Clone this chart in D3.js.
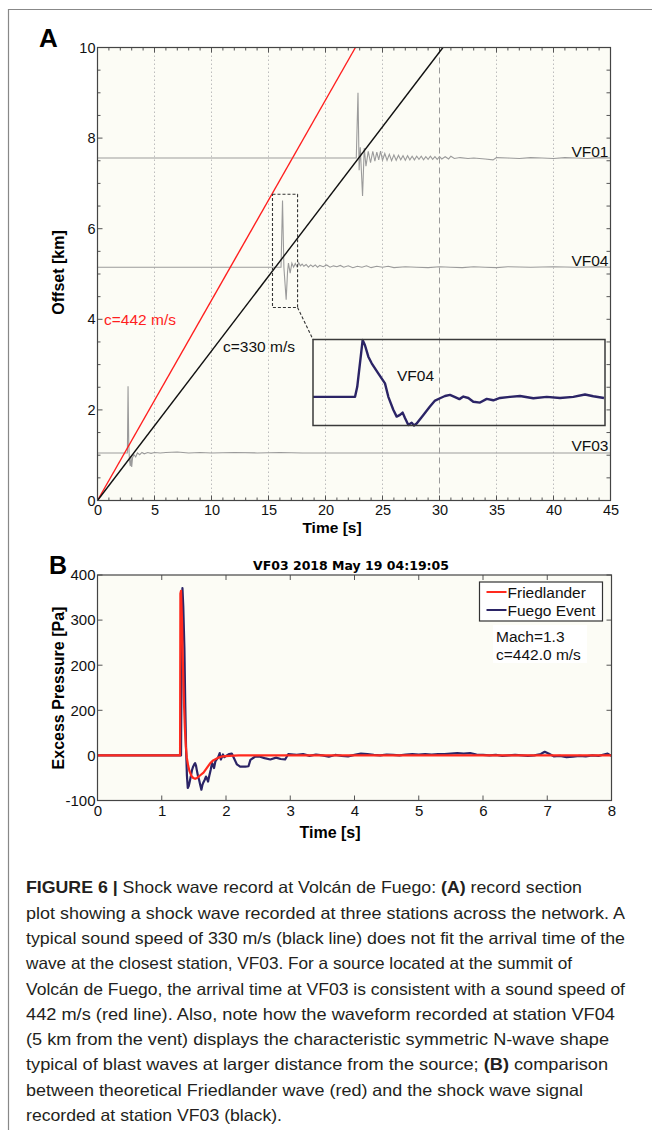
<!DOCTYPE html>
<html>
<head>
<meta charset="utf-8">
<script src="https://cdn.jsdelivr.net/npm/d3@7"></script>
<style>
  body { margin: 0; background: #fff; }
  svg { display: block; font-family: "Liberation Sans", Arial, sans-serif; }
</style>
</head>
<body>
<div id="fig"></div>
<script>
// ---- Panel A data: record section ----
const stations = ["VF01", "VF04", "VF03"];
const stationOffset = [7.56, 5.15, 1.05]; // km
// [time s, deviation from baseline in km]
const vf01Trace = [[0,0],[22.7,0],[22.85,1.44],[22.95,-0.27],[23.05,0.24],[23.25,-0.84],[23.4,0.22],[23.55,-0.18],
  [23.75,0.15],[23.95,-0.1],[24.15,0.15],[24.33,-0.07],[24.5,0.13],[24.67,-0.04],[24.83,0.15],[25.0,-0.05],
  [25.2,0.1],[25.4,-0.05],[25.6,0.08],[25.8,-0.06],[26.0,0.07],[26.2,-0.05],[26.4,0.06],[26.6,-0.04],[26.8,0.05],
  [27.0,-0.05],[27.2,0.05],[27.4,-0.04],[27.6,0.04],[27.8,-0.04],[28.0,0.04],[28.2,-0.03],[28.4,0.04],[28.6,-0.04],
  [28.8,0.03],[29.0,-0.03],[29.2,0.04],[29.4,-0.03],[29.6,0.03],[29.8,-0.03],[30.0,0.03],[30.2,-0.02],[30.5,0.03],
  [30.8,-0.02],[31.0,0.04],[31.3,-0.01],[31.8,0.01],[32.5,-0.01],[33.0,0.0],[34.0,-0.02],[34.7,-0.04],[35.0,0.01],
  [36.0,0.0],[37.0,-0.01],[38.0,0.01],[39.0,0.0],[40.0,-0.01],[41.0,0.01],[42,0],[43,-0.01],[44,0.01],[45,0]];
const vf04Trace = [[0,0],[16.1,0],[16.23,1.47],[16.35,0],[16.46,-0.4],[16.55,-0.72],[16.67,-0.1],[16.75,0.09],
  [16.9,-0.13],[17.05,0.09],[17.2,0.0],[17.35,0.08],[17.5,0.01],[17.65,0.1],[17.8,0.03],[17.95,0.07],[18.1,0.02],
  [18.3,0.06],[18.5,0.0],[18.7,0.05],[18.9,0.01],[19.1,0.05],[19.3,0.0],[19.5,0.04],[19.8,0.01],[20.1,0.05],
  [20.4,0.0],[20.7,0.03],[21.0,0.01],[21.3,0.04],[21.6,0.0],[22.0,0.03],[22.4,-0.01],[22.8,0.02],[23.2,0.0],
  [23.6,0.03],[24.0,-0.01],[24.5,0.02],[25.0,0.0],[25.5,0.02],[26,-0.01],[27,0.01],[28,0],[29,-0.01],[30,0.01],
  [31,0],[32,-0.01],[33,0.01],[34,0],[35,-0.01],[36,0.01],[38,0],[40,0.01],[42,0],[44,0.01],[45,0]];
const vf03Trace = [[0,0],[2.62,0],[2.68,1.47],[2.74,0.2],[2.8,-0.15],[2.88,-0.29],[2.94,-0.07],[3.0,-0.31],
  [3.08,-0.1],[3.2,-0.04],[3.35,-0.09],[3.5,0.0],[3.7,-0.04],[3.9,0.01],[4.1,-0.02],[4.4,0.01],[4.7,-0.01],
  [5.0,0.01],[5.5,0],[6,0.01],[7,0.02],[8,0.0],[9,0.01],[10,0],[12,0.01],[14,0],[16,0.01],[18,0],[20,0],
  [25,0],[30,0],[35,0],[40,0],[45,0]];
const traces = [vf01Trace, vf04Trace, vf03Trace];
const soundSpeeds = [442, 330]; // m/s
const speedColors = ["#ff1e1e", "#111111"];
// zoomed VF04 window (s, km) and inset waveform [relative time s, normalised amplitude]
const zoomWindow = { t0: 15.35, t1: 17.55, y0: 4.26, y1: 6.76 };
const insetTrace = [[0,0],[0.288,0],[0.303,0.35],[0.34,1.98],[0.356,1.8],[0.379,1.4],[0.402,1.17],[0.447,0.82],
  [0.493,0.47],[0.516,0],[0.55,-0.45],[0.573,-0.69],[0.596,-0.63],[0.614,-0.55],[0.63,-0.74],[0.653,-0.98],
  [0.676,-0.9],[0.692,-1.0],[0.71,-0.93],[0.756,-0.63],[0.801,-0.34],[0.836,-0.13],[0.87,-0.05],[0.904,0.03],
  [0.938,0.07],[0.973,-0.01],[1.003,-0.08],[1.03,0.01],[1.064,-0.04],[1.098,-0.17],[1.144,-0.2],[1.19,-0.07],
  [1.235,-0.12],[1.281,-0.04],[1.349,0],[1.418,0.03],[1.509,-0.05],[1.601,0],[1.692,-0.04],[1.783,0],
  [1.863,0.08],[1.92,0.02],[1.993,-0.04]];

// ---- Panel B data: excess pressure ----
const friedlander = [[0,0],[1.285,0],[1.29,359],[1.3,365],[1.315,300],[1.33,200],[1.345,120],[1.36,60],
  [1.375,20],[1.39,-5],[1.41,-22],[1.43,-34],[1.46,-45],[1.49,-50],[1.52,-52],[1.55,-50],[1.6,-44],[1.65,-38],
  [1.7,-28],[1.75,-18],[1.8,-11],[1.88,-5],[1.95,-2],[2.05,-1],[2.2,0],[8,0]];
const fuegoEvent = [[0,0],[1.3,0],[1.305,120],[1.322,371],[1.335,330],[1.353,234],[1.366,110],[1.379,12],
  [1.392,-45],[1.405,-72],[1.42,-68],[1.436,-58],[1.452,-47],[1.47,-33],[1.488,-25],[1.505,-20],[1.519,-17],
  [1.532,-22],[1.545,-32],[1.563,-45],[1.581,-54],[1.6,-66],[1.617,-76],[1.632,-66],[1.648,-60],[1.669,-54],
  [1.688,-47],[1.705,-52],[1.721,-58],[1.74,-45],[1.762,-32],[1.783,-17],[1.8,-22],[1.814,-28],[1.835,-13],
  [1.856,-9],[1.876,-5],[1.902,5],[1.92,-9],[1.953,2],[1.975,-4],[2.0,-1],[2.05,3],[2.09,4],[2.13,-8],[2.17,-20],
  [2.22,-25],[2.3,-25],[2.35,-24],[2.38,-10],[2.45,-3],[2.53,-3],[2.6,-6],[2.69,-9],[2.78,-5],[2.85,-8],[2.92,-9],
  [2.97,3],[3.1,1],[3.2,3],[3.3,-1],[3.4,2],[3.5,0],[3.6,-3],[3.7,1],[3.8,-1],[3.9,-2],[4.0,1],[4.1,4],[4.2,3],
  [4.3,1],[4.4,0],[4.5,2],[4.6,1],[4.7,0],[4.8,2],[4.9,3],[5.0,2],[5.1,3],[5.2,2],[5.3,3],[5.4,3],[5.5,4],
  [5.6,5],[5.7,4],[5.8,5],[5.9,2],[6.0,1],[6.1,0],[6.2,1],[6.3,-1],[6.4,0],[6.5,1],[6.6,0],[6.7,-1],[6.8,0],
  [6.9,3],[6.96,8],[7.02,4],[7.1,-2],[7.2,-1],[7.3,-4],[7.4,-3],[7.5,-1],[7.6,-2],[7.7,0],[7.8,-1],[7.88,2],
  [7.94,4],[8.0,-1]];
const bYTicks = [400, 300, 200, 100, 0, -100];
const bYTickLabels = ["400", "300", "200", "200", "0", "-100"]; // as printed
const legendNames = ["Friedlander", "Fuego Event"];

// ---- Caption ----
const captionLines = [
  [["FIGURE 6 | ", 1], ["Shock wave record at Volcán de Fuego: ", 0], ["(A)", 1], [" record section", 0]],
  [["plot showing a shock wave recorded at three stations across the network. A", 0]],
  [["typical sound speed of 330 m/s (black line) does not fit the arrival time of the", 0]],
  [["wave at the closest station, VF03. For a source located at the summit of", 0]],
  [["Volcán de Fuego, the arrival time at VF03 is consistent with a sound speed of", 0]],
  [["442 m/s (red line). Also, note how the waveform recorded at station VF04", 0]],
  [["(5 km from the vent) displays the characteristic symmetric N-wave shape", 0]],
  [["typical of blast waves at larger distance from the source; ", 0], ["(B)", 1], [" comparison", 0]],
  [["between theoretical Friedlander wave (red) and the shock wave signal", 0]],
  [["recorded at station VF03 (black).", 0]]
];
const captionEnds = [582, 625, 625, 572, 625, 615, 609, 608, 583, 282];

const W = 652, H = 1130;
const bg = "#fcfcf5";
const svg = d3.select("#fig").append("svg").attr("width", W).attr("height", H);

// figure frame rules
svg.append("path").attr("d", `M8.5,${H} V9.5 H${W}`).attr("fill", "none").attr("stroke", "#888").attr("stroke-width", 1.2);

// ================= Panel A =================
const a = { left: 97.5, right: 610.5, top: 47.5, bottom: 500.5 };
const xA = d3.scaleLinear().domain([0, 45]).range([a.left, a.right]);
const yA = d3.scaleLinear().domain([0, 10]).range([a.bottom, a.top]);

svg.append("rect").attr("x", a.left).attr("y", a.top).attr("width", a.right - a.left)
  .attr("height", a.bottom - a.top).attr("fill", bg);

const gA = svg.append("g");
// vertical grid
gA.selectAll(".gridA").data(d3.range(5, 45, 5)).join("line")
  .attr("x1", d => xA(d)).attr("x2", d => xA(d)).attr("y1", a.top).attr("y2", a.bottom)
  .attr("stroke", d => d === 30 ? "#9a9a9a" : "#bdbdbd")
  .attr("stroke-width", 1)
  .attr("stroke-dasharray", d => d === 30 ? "6,4" : "1.5,2.5");

// minor ticks
const minorT = d3.range(0, 46, 1);
gA.selectAll(".mtb").data(minorT).join("line")
  .attr("x1", d => xA(d)).attr("x2", d => xA(d))
  .attr("y1", a.bottom).attr("y2", d => a.bottom - (d % 5 === 0 ? 5 : 3)).attr("stroke", "#555");
gA.selectAll(".mtt").data(minorT).join("line")
  .attr("x1", d => xA(d)).attr("x2", d => xA(d))
  .attr("y1", a.top).attr("y2", d => a.top + (d % 5 === 0 ? 5 : 3)).attr("stroke", "#555");
const minorY = d3.range(0, 10.01, 0.5);
gA.selectAll(".mtl").data(minorY).join("line")
  .attr("x1", a.left).attr("x2", d => a.left + (d % 2 === 0 ? 5 : 3))
  .attr("y1", d => yA(d)).attr("y2", d => yA(d)).attr("stroke", "#555");
gA.selectAll(".mtr").data(minorY).join("line")
  .attr("x1", a.right).attr("x2", a.right - 4)
  .attr("y1", d => yA(d)).attr("y2", d => yA(d)).attr("stroke", "#555");

// station traces
const traceLine = off => d3.line().x(d => xA(d[0])).y(d => yA(off + d[1]));
traces.forEach((tr, i) => {
  gA.append("path").datum(tr).attr("d", traceLine(stationOffset[i]))
    .attr("fill", "none").attr("stroke", "#9b9b9b").attr("stroke-width", 1.1);
});
gA.selectAll(".stLab").data(stations).join("text")
  .attr("x", 608.5).attr("y", (d, i) => yA(stationOffset[i]) - 1.5)
  .attr("text-anchor", "end").attr("font-size", 15.5).attr("fill", "#111").text(d => d);

// sound speed lines (offset km = c * t / 1000), clipped at 10 km
soundSpeeds.forEach((c, i) => {
  const tEnd = 10 / (c / 1000);
  gA.append("path").datum([[0, 0], [tEnd, 10]])
    .attr("d", d3.line().x(d => xA(d[0])).y(d => yA(d[1])))
    .attr("stroke", speedColors[i]).attr("stroke-width", 1.4).attr("fill", "none");
});
gA.append("text").attr("x", 104).attr("y", 325).attr("font-size", 15.5).attr("fill", speedColors[0])
  .text(`c=${soundSpeeds[0]} m/s`);
gA.append("text").attr("x", 223).attr("y", 352).attr("font-size", 15.5).attr("fill", speedColors[1])
  .text(`c=${soundSpeeds[1]} m/s`);

// zoom window + connector
gA.append("rect")
  .attr("x", xA(zoomWindow.t0)).attr("y", yA(zoomWindow.y1))
  .attr("width", xA(zoomWindow.t1) - xA(zoomWindow.t0)).attr("height", yA(zoomWindow.y0) - yA(zoomWindow.y1))
  .attr("fill", "none").attr("stroke", "#333").attr("stroke-width", 1.1).attr("stroke-dasharray", "3,2");

const inset = { x: 313, y: 339.5, w: 292, h: 86 };
gA.append("line")
  .attr("x1", xA(zoomWindow.t1)).attr("y1", yA(zoomWindow.y0)).attr("x2", inset.x).attr("y2", inset.y)
  .attr("stroke", "#333").attr("stroke-width", 1.1).attr("stroke-dasharray", "3,2");

// inset
const xI = d3.scaleLinear().domain([0, 2]).range([inset.x, inset.x + inset.w]);
const yI = d3.scaleLinear().domain([-1, 2]).range([inset.y + inset.h, inset.y]);
gA.append("path").datum(insetTrace)
  .attr("d", d3.line().x(d => xI(d[0])).y(d => yI(d[1])))
  .attr("fill", "none").attr("stroke", "#2b2466").attr("stroke-width", 2.4).attr("stroke-linejoin", "round");
gA.append("rect").attr("x", inset.x).attr("y", inset.y).attr("width", inset.w).attr("height", inset.h)
  .attr("fill", "none").attr("stroke", "#3a3a3a").attr("stroke-width", 1.5);
gA.append("text").attr("x", 397).attr("y", 381).attr("font-size", 15.5).attr("fill", "#111").text("VF04");

// frame + axes
gA.append("rect").attr("x", a.left).attr("y", a.top).attr("width", a.right - a.left)
  .attr("height", a.bottom - a.top).attr("fill", "none").attr("stroke", "#444").attr("stroke-width", 1.2);

const axA_x = svg.append("g").attr("transform", `translate(0,${a.bottom})`)
  .call(d3.axisBottom(xA).tickValues(d3.range(0, 46, 5)).tickSize(0).tickPadding(4));
const axA_y = svg.append("g").attr("transform", `translate(${a.left},0)`)
  .call(d3.axisLeft(yA).tickValues(d3.range(0, 11, 2)).tickSize(0).tickPadding(2));
[axA_x, axA_y].forEach(g => {
  g.select(".domain").remove();
  g.selectAll("text").attr("font-size", 14.5).attr("font-family", "Liberation Sans, Arial, sans-serif").attr("fill", "#111");
});

svg.append("text").attr("x", 332).attr("y", 533).attr("text-anchor", "middle")
  .attr("font-size", 15.5).attr("font-weight", "bold").text("Time [s]");
svg.append("text").attr("transform", "translate(63.5,272.5) rotate(-90)").attr("text-anchor", "middle")
  .attr("font-size", 16).attr("font-weight", "bold").text("Offset [km]");
svg.append("text").attr("x", 39).attr("y", 47).attr("font-size", 26).attr("font-weight", "bold").text("A");

// ================= Panel B =================
const b = { left: 97.5, right: 611.5, top: 575, bottom: 800.5 };
const xB = d3.scaleLinear().domain([0, 8]).range([b.left, b.right]);
const yB = d3.scaleLinear().domain([-100, 400]).range([b.bottom, b.top]);

svg.append("rect").attr("x", b.left).attr("y", b.top).attr("width", b.right - b.left)
  .attr("height", b.bottom - b.top).attr("fill", bg);
const gB = svg.append("g");

// inward ticks on four sides
const xtB = d3.range(0, 9, 1);
gB.selectAll(".tb").data(xtB).join("line").attr("x1", d => xB(d)).attr("x2", d => xB(d))
  .attr("y1", b.bottom).attr("y2", b.bottom - 5).attr("stroke", "#555");
gB.selectAll(".tt").data(xtB).join("line").attr("x1", d => xB(d)).attr("x2", d => xB(d))
  .attr("y1", b.top).attr("y2", b.top + 5).attr("stroke", "#555");
gB.selectAll(".tl").data(bYTicks).join("line").attr("x1", b.left).attr("x2", b.left + 5)
  .attr("y1", d => yB(d)).attr("y2", d => yB(d)).attr("stroke", "#555");
gB.selectAll(".tr").data(bYTicks).join("line").attr("x1", b.right).attr("x2", b.right - 5)
  .attr("y1", d => yB(d)).attr("y2", d => yB(d)).attr("stroke", "#555");

const lineB = d3.line().x(d => xB(d[0])).y(d => yB(d[1]));
gB.append("path").datum(fuegoEvent).attr("d", lineB).attr("fill", "none")
  .attr("stroke", "#2b2466").attr("stroke-width", 2.2).attr("stroke-linejoin", "round");
gB.append("path").datum(friedlander).attr("d", lineB).attr("fill", "none")
  .attr("stroke", "#ff2a1e").attr("stroke-width", 2.2).attr("stroke-linejoin", "round");

gB.append("rect").attr("x", b.left).attr("y", b.top).attr("width", b.right - b.left)
  .attr("height", b.bottom - b.top).attr("fill", "none").attr("stroke", "#444").attr("stroke-width", 1.2);

const axB_x = svg.append("g").attr("transform", `translate(0,${b.bottom})`)
  .call(d3.axisBottom(xB).tickValues(xtB).tickSize(0).tickPadding(5));
const axB_y = svg.append("g").attr("transform", `translate(${b.left},0)`)
  .call(d3.axisLeft(yB).tickValues(bYTicks).tickFormat((d, i) => bYTickLabels[i]).tickSize(0).tickPadding(2));
[axB_x, axB_y].forEach(g => {
  g.select(".domain").remove();
  g.selectAll("text").attr("font-size", 15).attr("font-family", "Liberation Sans, Arial, sans-serif").attr("fill", "#111");
});

// legend
const leg = { x: 479.5, y: 582, w: 123, h: 39 };
gB.append("rect").attr("x", leg.x).attr("y", leg.y).attr("width", leg.w).attr("height", leg.h)
  .attr("fill", "#fff").attr("stroke", "#333").attr("stroke-width", 1.2);
const legColors = ["#ff2a1e", "#2b2466"];
legendNames.forEach((name, i) => {
  const yy = leg.y + 10 + i * 18;
  gB.append("line").attr("x1", leg.x + 7).attr("x2", leg.x + 27).attr("y1", yy).attr("y2", yy)
    .attr("stroke", legColors[i]).attr("stroke-width", 2);
  gB.append("text").attr("x", leg.x + 28).attr("y", yy + 5.5).attr("font-size", 15.5).attr("fill", "#111").text(name);
});
gB.append("rect").attr("x", 493).attr("y", 625).attr("width", 94).attr("height", 38).attr("fill", "#fff");
gB.append("text").attr("x", 496).attr("y", 641.5).attr("font-size", 15.5).attr("fill", "#111").text("Mach=1.3");
gB.append("text").attr("x", 496).attr("y", 659.5).attr("font-size", 15.5).attr("fill", "#111").text("c=442.0 m/s");

svg.append("text").attr("x", 351).attr("y", 569.5).attr("text-anchor", "middle")
  .attr("font-family", "DejaVu Sans, sans-serif").attr("font-size", 12.5).attr("font-weight", "bold")
  .text("VF03 2018 May 19 04:19:05");
svg.append("text").attr("x", 330).attr("y", 838).attr("text-anchor", "middle")
  .attr("font-size", 16).attr("font-weight", "bold").text("Time [s]");
svg.append("text").attr("transform", "translate(63.5,688) rotate(-90)").attr("text-anchor", "middle")
  .attr("font-size", 16).attr("font-weight", "bold").text("Excess Pressure [Pa]");
svg.append("text").attr("x", 49).attr("y", 574).attr("font-size", 25).attr("font-weight", "bold").text("B");

// ================= Caption =================
const cap = svg.append("g").attr("fill", "#231f20");
captionLines.forEach((segs, i) => {
  const t = cap.append("text").attr("x", 26).attr("y", 893.3 + i * 25.3)
    .attr("font-size", 16.5)
    .attr("textLength", captionEnds[i] - 26).attr("lengthAdjust", "spacingAndGlyphs");
  segs.forEach(s => {
    t.append("tspan").attr("font-weight", s[1] ? "bold" : "normal").text(s[0]);
  });
});
</script>
</body>
</html>
